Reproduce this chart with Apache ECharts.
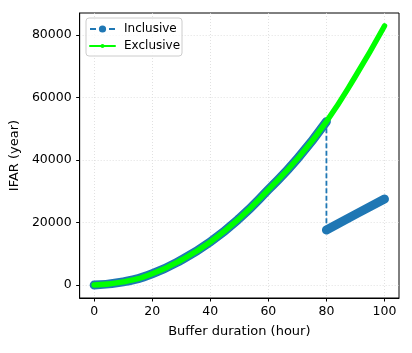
<!DOCTYPE html>
<html>
<head>
<meta charset="utf-8">
<script src="https://cdn.jsdelivr.net/npm/echarts@6/dist/echarts.min.js"></script>
<style>
  html, body { margin: 0; padding: 0; background: #fff; }
  #chart { width: 412px; height: 353px; }
</style>
</head>
<body>
<div id="chart"></div>
<script>
  // values
  const hours = [0, 10, 20, 30, 40, 50, 60, 70, 80, 90, 100]
  const exclusive = [0, 1000, 3600, 8000, 13800, 21300, 30500, 40400, 52300, 66800, 82900]
  const inclHours = [0, 10, 20, 30, 40, 50, 60, 70, 80, 80, 90, 100]
  const inclusive = [0, 1000, 3600, 8000, 13800, 21300, 30500, 40400, 52300, 17600, 22600, 27500]
  const xTicks = [0, 20, 40, 60, 80, 100]
  const yTicks = [0, 20000, 40000, 60000, 80000]

  const font = 'DejaVu Sans'
  const blue = '#1f77b4'
  const green = '#00ff00'

  const pairs = (xs, ys) => xs.map((x, i) => [x, ys[i]])
  const inclData = pairs(inclHours, inclusive)
  // band for the dense markers: break at the drop
  const dropAt = inclHours.findIndex((x, i) => i > 0 && x === inclHours[i - 1])
  const inclBand = inclData.slice(0, dropAt).concat([[inclHours[dropAt], '-']], inclData.slice(dropAt))

  const chart = echarts.init(document.getElementById('chart'))
  chart.setOption({
    animation: false,
    textStyle: { fontFamily: font },
    grid: {
      left: 79, right: 13, top: 13, bottom: 55,
      show: true, borderColor: '#000', borderWidth: 1
    },
    graphic: [{
      type: 'rect',
      shape: { x: 86, y: 18, width: 96, height: 38, r: 3 },
      style: { fill: 'rgba(255,255,255,0.8)', stroke: '#cccccc', lineWidth: 1 },
      z: 50
    }],
    legend: [{
      data: [{ name: 'Inclusive', lineStyle: { type: [6, 13] } }],
      orient: 'vertical',
      left: 89, top: 23,
      padding: 0,
      itemWidth: 25, itemHeight: 9,
      textStyle: { fontFamily: font, fontSize: 12, color: '#000', padding: [0, 0, 0, 4] },
      z: 60
    }, {
      data: ['Exclusive'],
      orient: 'vertical',
      left: 89, top: 40,
      padding: 0,
      itemWidth: 25, itemHeight: 5,
      textStyle: { fontFamily: font, fontSize: 12, color: '#000', padding: [0, 0, 0, 4] },
      z: 60
    }],
    xAxis: {
      type: 'value',
      min: -5, max: 105,
      name: 'Buffer duration (hour)',
      nameLocation: 'middle',
      nameGap: 27,
      nameTextStyle: { fontFamily: font, fontSize: 13, color: '#000' },
      axisLine: { show: true, onZero: false, lineStyle: { color: '#000', width: 1 } },
      axisTick: { show: true, length: 3.5, customValues: xTicks, lineStyle: { color: '#000' } },
      axisLabel: { customValues: xTicks, formatter: v => String(v), margin: 7, fontFamily: font, fontSize: 12.5, color: '#000' },
      splitLine: { show: true, lineStyle: { color: '#d9d9d9', type: [1, 2], width: 0.8 } }
    },
    yAxis: {
      type: 'value',
      min: -4150, max: 87050,
      name: 'IFAR (year)',
      nameLocation: 'middle',
      nameGap: 54,
      nameTextStyle: { fontFamily: font, fontSize: 13, color: '#000' },
      axisLine: { show: true, onZero: false, lineStyle: { color: '#000', width: 1 } },
      axisTick: { show: true, length: 3.5, customValues: yTicks, lineStyle: { color: '#000' } },
      axisLabel: { customValues: yTicks, formatter: v => String(v), margin: 8, fontFamily: font, fontSize: 12.5, color: '#000' },
      splitLine: { show: true, lineStyle: { color: '#d9d9d9', type: [1, 2], width: 0.8 } }
    },
    series: [
      {
        name: 'Inclusive',
        type: 'line',
        data: inclData,
        symbol: 'circle',
        showSymbol: false,
        itemStyle: { color: blue },
        lineStyle: { color: blue, width: 1.8, type: [5, 2.5] },
        z: 2
      },
      {
        name: 'Inclusive',
        type: 'line',
        data: inclBand,
        smooth: 0.5,
        symbol: 'none',
        connectNulls: false,
        itemStyle: { color: blue },
        lineStyle: { color: blue, width: 9, cap: 'round', join: 'round' },
        z: 3
      },
      {
        name: 'Exclusive',
        type: 'line',
        data: pairs(hours, exclusive),
        smooth: 0.5,
        symbol: 'circle',
        showSymbol: false,
        itemStyle: { color: green },
        lineStyle: { color: green, width: 5.5, cap: 'round', join: 'round' },
        z: 4
      }
    ]
  })
</script>
</body>
</html>
